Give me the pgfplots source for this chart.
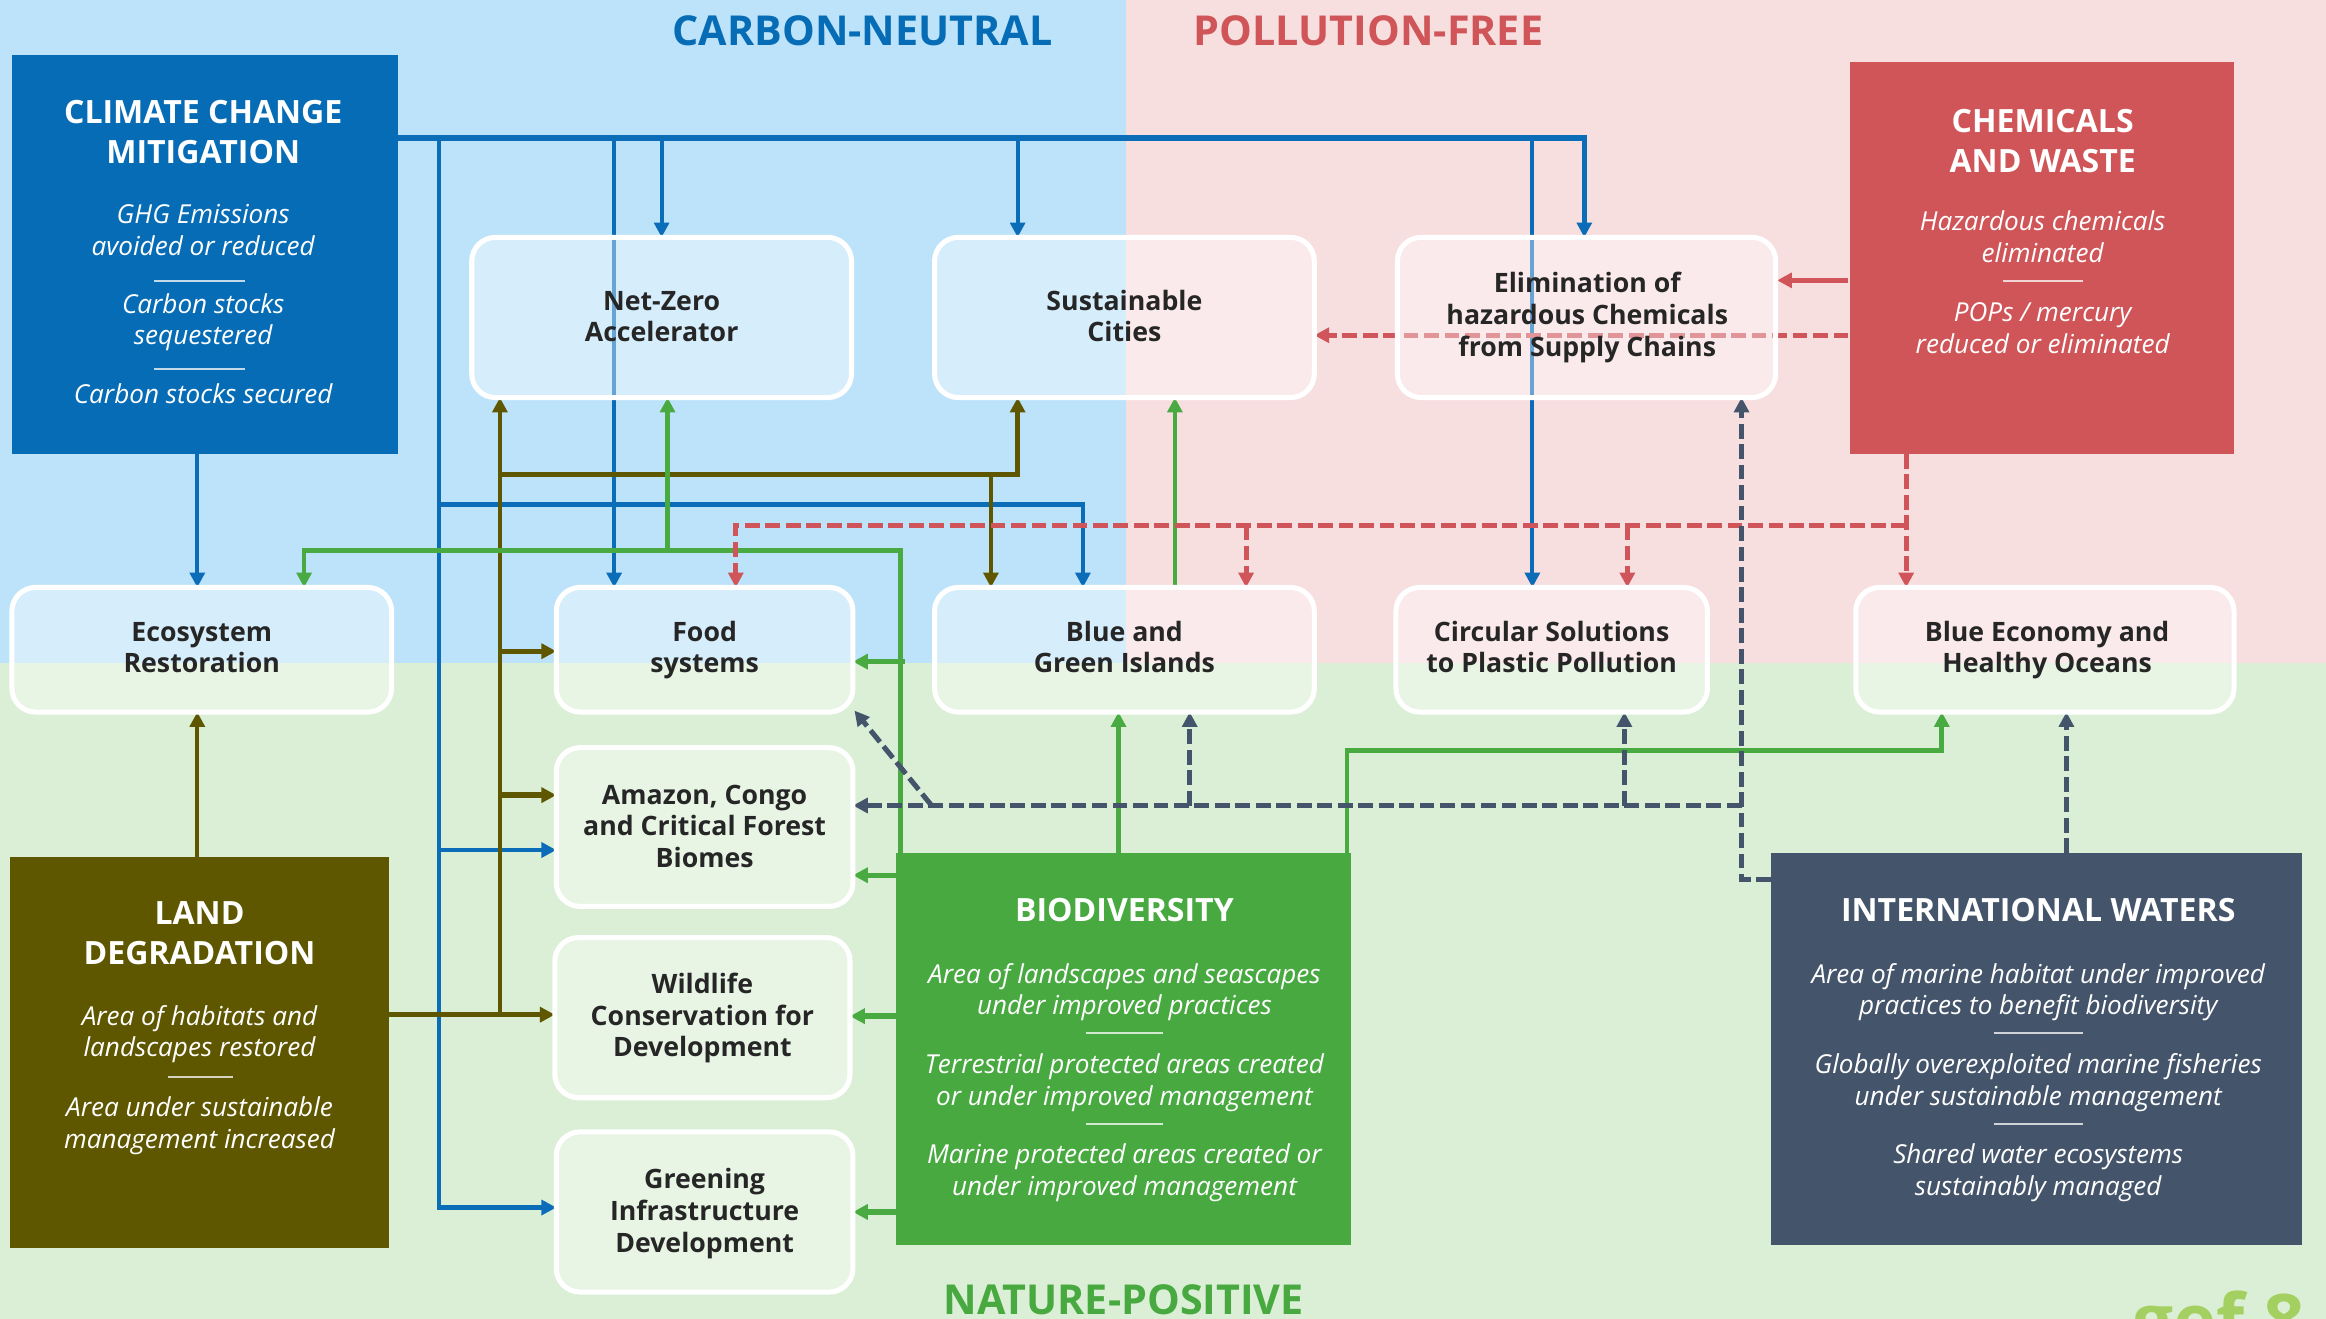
\documentclass[border=0pt]{standalone}
\usepackage{pgfplots}
\pgfplotsset{compat=1.18}
\usetikzlibrary{arrows.meta}
\usepackage{fontspec}
\setmainfont{Open Sans}
\definecolor{bgblue}{RGB}{189,227,250}
\definecolor{bgpink}{RGB}{247,222,223}
\definecolor{bggreen}{RGB}{218,239,214}
\definecolor{ccm}{RGB}{6,108,181}
\definecolor{cw}{RGB}{208,85,88}
\definecolor{ld}{RGB}{95,87,0}
\definecolor{bio}{RGB}{72,169,65}
\definecolor{iw}{RGB}{68,84,106}
\definecolor{aB}{RGB}{11,109,184}
\definecolor{aO}{RGB}{95,87,0}
\definecolor{aG}{RGB}{74,170,66}
\definecolor{aR}{RGB}{208,85,90}
\definecolor{aS}{RGB}{68,84,106}
\definecolor{boxtext}{RGB}{38,38,38}
\definecolor{gef}{RGB}{163,208,96}
\newcommand\boxfont{\bfseries\fontsize{9}{10.8}\selectfont}
\newcommand\titfont{\bfseries\fontsize{10.8}{13}\selectfont}
\newcommand\itfont{\itshape\fontsize{8.8}{10.5}\selectfont}
\newcommand\hdfont{\bfseries\fontsize{13.9}{16}\selectfont}
\tikzset{
  tip/.style={-{Triangle[length=5pt,width=5pt]}},
  rbox/.style={draw=white, line width=1.7pt, rounded corners=8pt, fill=white, fill opacity=0.38},
  ln/.style={line width=1.4pt, tip},
  dsh/.style={line width=1.7pt, dash pattern=on 5pt off 1.9pt, tip},
}
\newcommand\bl[3]{\node[anchor=base, font=\boxfont, text=boxtext, inner sep=0pt] at (axis cs:#1,#2) {#3};}
\newcommand\tl[3]{\node[anchor=base, font=\titfont, text=white, inner sep=0pt] at (axis cs:#1,#2) {#3};}
\newcommand\il[3]{\node[anchor=base, font=\itfont, text=white, inner sep=0pt] at (axis cs:#1,#2) {#3};}
\newcommand\sep[3]{\draw[white, opacity=0.75, line width=0.6pt] (axis cs:#1,#3) -- (axis cs:#2,#3);}
\newcommand\rb[4]{\draw[rbox] (axis cs:#1,#2) rectangle (axis cs:#3,#4);}
\begin{document}
\begin{tikzpicture}
\begin{axis}[
  width=784pt, height=444.5pt, scale only axis,
  xmin=0, xmax=1568, ymin=0, ymax=889, y dir=reverse,
  hide axis,
]
% backgrounds
\fill[bgblue] (axis cs:0,0) rectangle (axis cs:759,447);
\fill[bgpink] (axis cs:759,0) rectangle (axis cs:1568,447);
\fill[bggreen] (axis cs:0,447) rectangle (axis cs:1568,889);

% blue arrows
\addplot[aB, line width=1.8pt, tip] coordinates {(268,93) (1068,93) (1068,160)};
\addplot[aB, ln] coordinates {(446,93) (446,160)};
\addplot[aB, ln] coordinates {(686,93) (686,160)};
\addplot[aB, ln] coordinates {(414,93) (414,396)};
\addplot[aB, ln] coordinates {(1033,93) (1033,396)};
\addplot[aB, line width=1.6pt, tip] coordinates {(296,93) (296,814) (375,814)};
\addplot[aB, line width=1.6pt, tip] coordinates {(296,573) (375,573)};
\addplot[aB, line width=1.6pt, tip] coordinates {(296,340) (730,340) (730,396)};
\addplot[aB, ln] coordinates {(133,306) (133,396)};

% olive arrows
\addplot[aO, ln] coordinates {(133,578) (133,480)};
\addplot[aO, line width=1.6pt, tip] coordinates {(262,684) (374,684)};
\addplot[aO, ln] coordinates {(337,684) (337,268)};
\addplot[aO, line width=1.8pt, tip] coordinates {(337,439) (375,439)};
\addplot[aO, line width=1.8pt, tip] coordinates {(337,536) (375,536)};
\addplot[aO, line width=1.6pt, tip] coordinates {(337,320) (686,320) (686,268)};
\addplot[aO, ln] coordinates {(668,320) (668,396)};

% green arrows
\addplot[aG, line width=1.6pt, tip] coordinates {(607,575) (607,371) (205,371) (205,396)};
\addplot[aG, ln] coordinates {(450,371) (450,268)};
\addplot[aG, line width=1.8pt, tip] coordinates {(610,446) (575,446)};
\addplot[aG, line width=1.8pt, tip] coordinates {(605,590) (575,590)};
\addplot[aG, line width=1.8pt, tip] coordinates {(605,685) (573,685)};
\addplot[aG, line width=1.8pt, tip] coordinates {(605,817) (575,817)};
\addplot[aG, ln] coordinates {(754,575) (754,480)};
\addplot[aG, ln] coordinates {(792,397) (792,268)};
\addplot[aG, line width=1.6pt, tip] coordinates {(908,575) (908,506) (1309,506) (1309,480)};

% red arrows
\addplot[aR, dsh] coordinates {(1246,226) (886,226)};
\addplot[aR, line width=1.8pt, tip] coordinates {(1246,189) (1198,189)};
\addplot[aR, dsh] coordinates {(1285,306) (1285,396)};
\addplot[aR, dsh] coordinates {(1285,354) (496,354) (496,396)};
\addplot[aR, dsh] coordinates {(840,354) (840,396)};
\addplot[aR, dsh] coordinates {(1097,354) (1097,396)};

% slate arrows
\addplot[aS, dsh] coordinates {(1393,575) (1393,480)};
\addplot[aS, dsh] coordinates {(1194,593) (1174,593) (1174,268)};
\addplot[aS, dsh] coordinates {(1174,543) (575,543)};
\addplot[aS, dsh] coordinates {(1095,543) (1095,480)};
\addplot[aS, dsh] coordinates {(802,543) (802,480)};
\addplot[aS, dsh] coordinates {(628,543) (576,479)};

% rounded programme boxes
\rb{318}{160}{574}{268}
\rb{630}{160}{886}{268}
\rb{942}{160}{1197}{268}
\rb{8}{396}{264}{480}
\rb{375}{396}{575}{480}
\rb{630}{396}{886}{480}
\rb{941}{396}{1151}{480}
\rb{1251}{396}{1506}{480}
\rb{375}{504}{575}{611}
\rb{374}{632}{573}{740}
\rb{375}{763}{575}{871}

% coloured focal-area boxes
\fill[ccm] (axis cs:8,37) rectangle (axis cs:268,306);
\fill[cw] (axis cs:1247,42) rectangle (axis cs:1506,306);
\fill[ld] (axis cs:7,578) rectangle (axis cs:262,841);
\fill[bio] (axis cs:604,575) rectangle (axis cs:911,839);
\fill[iw] (axis cs:1194,575) rectangle (axis cs:1552,839);

% headers
\node[anchor=base, font=\hdfont, text=ccm, inner sep=0pt] at (axis cs:581.5,31) {CARBON-NEUTRAL};
\node[anchor=base, font=\hdfont, text=cw, inner sep=0pt] at (axis cs:922.5,31) {POLLUTION-FREE};
\node[anchor=base, font=\hdfont, text=bio, inner sep=0pt] at (axis cs:757.5,886) {NATURE-POSITIVE};
\node[anchor=base west, font=\bfseries\fontsize{24.5}{26}\selectfont, text=gef, inner sep=0pt] at (axis cs:1437,908) {gef 8};

% programme labels
\bl{446}{209}{Net-Zero}
\bl{446}{230.5}{Accelerator}
\bl{758}{209}{Sustainable}
\bl{758}{230.5}{Cities}
\bl{1070}{197.5}{Elimination of}
\bl{1070}{219}{hazardous Chemicals}
\bl{1070}{240.5}{from Supply Chains}
\bl{136}{432.5}{Ecosystem}
\bl{136}{453.5}{Restoration}
\bl{475}{432.5}{Food}
\bl{475}{453.5}{systems}
\bl{758}{432.5}{Blue and}
\bl{758}{453.5}{Green Islands}
\bl{1046}{432.5}{Circular Solutions}
\bl{1046}{453.5}{to Plastic Pollution}
\bl{1380}{432.5}{Blue Economy and}
\bl{1380}{453.5}{Healthy Oceans}
\bl{475}{542}{Amazon, Congo}
\bl{475}{563.5}{and Critical Forest}
\bl{475}{585}{Biomes}
\bl{473.5}{669.5}{Wildlife}
\bl{473.5}{691}{Conservation for}
\bl{473.5}{712.5}{Development}
\bl{475}{801}{Greening}
\bl{475}{822.5}{Infrastructure}
\bl{475}{844}{Development}

% Climate change mitigation
\tl{137}{83}{CLIMATE CHANGE}
\tl{137}{110}{MITIGATION}
\il{137}{150.5}{GHG Emissions}
\il{137}{172}{avoided or reduced}
\sep{104}{165}{189.5}
\il{137}{211}{Carbon stocks}
\il{137}{232.5}{sequestered}
\sep{104}{165}{249}
\il{137}{272}{Carbon stocks secured}

% Chemicals and waste
\tl{1377}{89}{CHEMICALS}
\tl{1377}{116}{AND WASTE}
\il{1377}{155.5}{Hazardous chemicals}
\il{1377}{177}{eliminated}
\sep{1350}{1404}{189.5}
\il{1377}{217}{POPs / mercury}
\il{1377}{238.5}{reduced or eliminated}

% Land degradation
\tl{134.5}{623.5}{LAND}
\tl{134.5}{650.5}{DEGRADATION}
\il{134.5}{691}{Area of habitats and}
\il{134.5}{712.5}{landscapes restored}
\sep{113}{157}{726}
\il{134.5}{752.8}{Area under sustainable}
\il{134.5}{774}{management increased}

% Biodiversity
\tl{758}{621.3}{BIODIVERSITY}
\il{758}{662.7}{Area of landscapes and seascapes}
\il{758}{684}{under improved practices}
\sep{732}{784}{696.5}
\il{758}{723.4}{Terrestrial protected areas created}
\il{758}{745}{or under improved management}
\sep{732}{784}{757.8}
\il{758}{784}{Marine protected areas created or}
\il{758}{805.6}{under improved management}

% International waters
\tl{1374}{621.3}{INTERNATIONAL WATERS}
\il{1374}{662.7}{Area of marine habitat under improved}
\il{1374}{684}{practices to benefit biodiversity}
\sep{1344}{1404}{696.5}
\il{1374}{723.4}{Globally overexploited marine fisheries}
\il{1374}{745}{under sustainable management}
\sep{1344}{1404}{757.8}
\il{1374}{784}{Shared water ecosystems}
\il{1374}{805.6}{sustainably managed}
\end{axis}
\pgfresetboundingbox
\path (current axis.south west) rectangle (current axis.north east);
\end{tikzpicture}
\end{document}
